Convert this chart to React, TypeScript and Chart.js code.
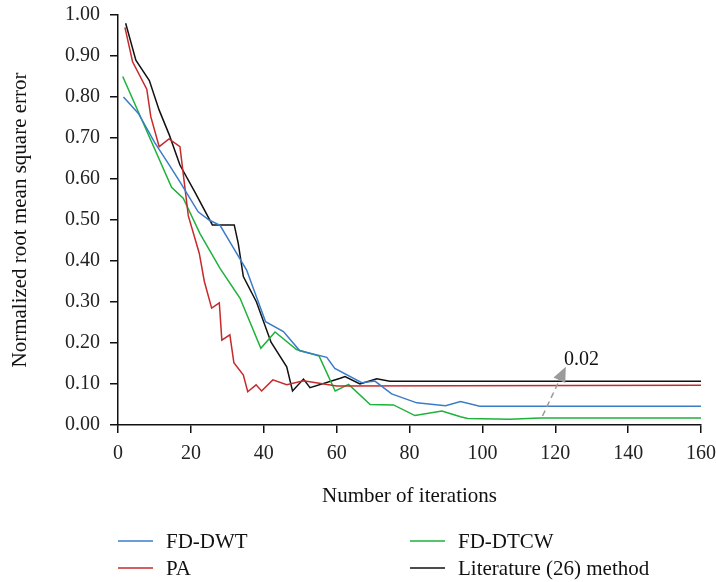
import React, { useEffect, useRef } from "react";
import { Chart, registerables } from "chart.js";

Chart.register(...registerables);

// ---- data ----
const dwtX = [1.5, 5.6, 10, 14, 17, 22, 25, 28, 35.3, 40.5, 45.4, 49.9, 57.3, 59.5, 66.9, 70.5, 75.1, 82, 89.9, 94, 99.3, 160];
const dwtY = [0.80, 0.76, 0.69, 0.635, 0.593, 0.52, 0.50, 0.487, 0.378, 0.252, 0.228, 0.181, 0.165, 0.138, 0.103, 0.107, 0.076, 0.054, 0.047, 0.057, 0.046, 0.046];

const paX = [1.9, 4, 7.9, 9, 11.3, 14, 17, 19.3, 22.3, 23.7, 25.7, 27.8, 28.5, 30.7, 31.8, 34.4, 35.6, 37.9, 39.4, 42.5, 46.3, 50.9, 60, 160];
const paY = [0.97, 0.886, 0.819, 0.752, 0.679, 0.698, 0.679, 0.51, 0.419, 0.35, 0.285, 0.298, 0.207, 0.22, 0.152, 0.122, 0.081, 0.098, 0.083, 0.11, 0.098, 0.108, 0.095, 0.097];

const dtcwX = [1.3, 14.7, 17.9, 22.5, 28, 33.5, 39.2, 43.1, 49, 55.2, 59.6, 63.3, 69.2, 75.6, 81.5, 88.9, 94, 96, 107.6, 115.8, 160];
const dtcwY = [0.85, 0.58, 0.553, 0.467, 0.382, 0.309, 0.187, 0.227, 0.184, 0.168, 0.083, 0.099, 0.05, 0.049, 0.023, 0.034, 0.02, 0.016, 0.014, 0.017, 0.017];

const litX = [2.1, 4.9, 8.6, 11.3, 14.1, 17, 21, 25.9, 31.9, 33, 34.4, 38, 42, 46.3, 47.9, 50.9, 52.7, 61, 62.3, 66.4, 71, 74.6, 160];
const litY = [0.98, 0.89, 0.84, 0.768, 0.707, 0.634, 0.57, 0.488, 0.488, 0.443, 0.362, 0.30, 0.202, 0.142, 0.083, 0.112, 0.091, 0.114, 0.118, 0.10, 0.113, 0.107, 0.107];

const seriesNames = ["FD-DWT", "PA", "FD-DTCW", "Literature (26) method"];
const seriesColors = ["#3b7cc8", "#c62a2d", "#1db23a", "#111111"];

const xTickLabels = ["0", "20", "40", "60", "80", "100", "120", "140", "160"];
const yTickLabels = ["0.00", "0.10", "0.20", "0.30", "0.40", "0.50", "0.60", "0.70", "0.80", "0.90", "1.00"];

const xTitle = "Number of iterations";
const yTitle = "Normalized root mean square error";

// annotation arrow (data coordinates)
const noteFrom = { x: 116.5, y: 0.022 };
const noteTo = { x: 122.9, y: 0.142 };
const noteText = "0.02";
const notePos = { x: 122.4, y: 0.146 };

const FONT = "'Liberation Serif', 'Times New Roman', serif";

const toPoints = (xs: number[], ys: number[]) => xs.map((x, i) => ({ x, y: ys[i] }));

const arrowPlugin = {
  id: "arrowNote",
  afterDatasetsDraw(chart: any) {
    const { ctx, scales } = chart;
    const xs = scales.x;
    const ys = scales.y;
    const x0 = xs.getPixelForValue(noteFrom.x);
    const y0 = ys.getPixelForValue(noteFrom.y);
    const x1 = xs.getPixelForValue(noteTo.x);
    const y1 = ys.getPixelForValue(noteTo.y);
    const ang = Math.atan2(y1 - y0, x1 - x0);
    const headLen = 15;
    const headHalf = 6.5;
    const bx = x1 - headLen * Math.cos(ang);
    const by = y1 - headLen * Math.sin(ang);
    ctx.save();
    ctx.strokeStyle = "#9b9b9b";
    ctx.fillStyle = "#9b9b9b";
    ctx.lineWidth = 1.5;
    ctx.setLineDash([6, 4]);
    ctx.beginPath();
    ctx.moveTo(x0, y0);
    ctx.lineTo(bx, by);
    ctx.stroke();
    ctx.setLineDash([]);
    const px = -Math.sin(ang);
    const py = Math.cos(ang);
    ctx.beginPath();
    ctx.moveTo(x1, y1);
    ctx.lineTo(bx + px * headHalf, by + py * headHalf);
    ctx.lineTo(bx - px * headHalf, by - py * headHalf);
    ctx.closePath();
    ctx.fill();
    ctx.fillStyle = "#111";
    ctx.font = `20px ${FONT}`;
    ctx.textAlign = "left";
    ctx.textBaseline = "alphabetic";
    ctx.fillText(noteText, xs.getPixelForValue(notePos.x), ys.getPixelForValue(notePos.y));
    ctx.restore();
  },
};

const legendPlugin = {
  id: "twoColLegend",
  afterDraw(chart: any) {
    const { ctx, chartArea } = chart;
    const colOffsets = [0, 292];
    const rowOffsets = [116, 143];
    const order = [
      [0, 0, 0],
      [1, 0, 1],
      [2, 1, 0],
      [3, 1, 1],
    ];
    ctx.save();
    ctx.font = `21px ${FONT}`;
    ctx.textBaseline = "middle";
    ctx.textAlign = "left";
    order.forEach(([di, col, row]) => {
      const ds = chart.data.datasets[di];
      const x = chartArea.left + colOffsets[col];
      const y = chartArea.bottom + rowOffsets[row];
      ctx.strokeStyle = ds.borderColor;
      ctx.lineWidth = 1.5;
      ctx.beginPath();
      ctx.moveTo(x, y);
      ctx.lineTo(x + 35, y);
      ctx.stroke();
      ctx.fillStyle = "#111";
      ctx.fillText(ds.label, x + 48, y + 1);
    });
    ctx.restore();
  },
};

export default function App() {
  const canvasRef = useRef<HTMLCanvasElement | null>(null);

  useEffect(() => {
    document.documentElement.style.overflow = "hidden";
    const canvas = canvasRef.current;
    if (!canvas) return;
    const seriesData = [
      toPoints(dwtX, dwtY),
      toPoints(paX, paY),
      toPoints(dtcwX, dtcwY),
      toPoints(litX, litY),
    ];
    const chart = new Chart(canvas, {
      type: "line",
      data: {
        datasets: seriesData.map((d, i) => ({
          label: seriesNames[i],
          data: d,
          borderColor: seriesColors[i],
          backgroundColor: seriesColors[i],
          borderWidth: 1.5,
          pointRadius: 0,
          tension: 0,
          fill: false,
        })),
      },
      options: {
        animation: false,
        responsive: true,
        maintainAspectRatio: false,
        layout: { padding: { left: 0, right: 15, top: 15, bottom: 73 } },
        plugins: {
          legend: { display: false },
          tooltip: { enabled: false },
        },
        scales: {
          x: {
            type: "linear",
            min: 0,
            max: 160,
            ticks: {
              stepSize: 20,
              color: "#222",
              font: { family: FONT, size: 20 },
              padding: 9,
              maxRotation: 0,
              callback: (_v: any, i: number) => xTickLabels[i],
            },
            grid: { drawOnChartArea: false, drawTicks: true, tickLength: 8, color: "#111", lineWidth: 1.5 },
            border: { display: true, color: "#111", width: 1.5 },
            title: {
              display: true,
              text: xTitle,
              color: "#111",
              font: { family: FONT, size: 21 },
              padding: { top: 0, bottom: 0 },
            },
            afterFit: (s: any) => {
              s.height = 84;
              s.paddingRight = 0;
              s.paddingLeft = 0;
            },
          },
          y: {
            type: "linear",
            min: 0,
            max: 1,
            ticks: {
              stepSize: 0.1,
              color: "#222",
              font: { family: FONT, size: 20 },
              padding: 10,
              callback: (_v: any, i: number) => yTickLabels[i],
            },
            grid: { drawOnChartArea: false, drawTicks: true, tickLength: 8, color: "#111", lineWidth: 1.5 },
            border: { display: true, color: "#111", width: 1.5 },
            title: {
              display: true,
              text: yTitle,
              color: "#111",
              font: { family: FONT, size: 21 },
              padding: { top: 8, bottom: 0 },
            },
            afterFit: (s: any) => {
              s.width = 118;
              s.paddingTop = 0;
              s.paddingBottom = 0;
            },
          },
        },
      },
      plugins: [arrowPlugin, legendPlugin],
    });
    return () => chart.destroy();
  }, []);

  return (
    <div style={{ position: "fixed", left: 0, top: 0, width: 716, height: 582 }}>
      <canvas ref={canvasRef} />
    </div>
  );
}
